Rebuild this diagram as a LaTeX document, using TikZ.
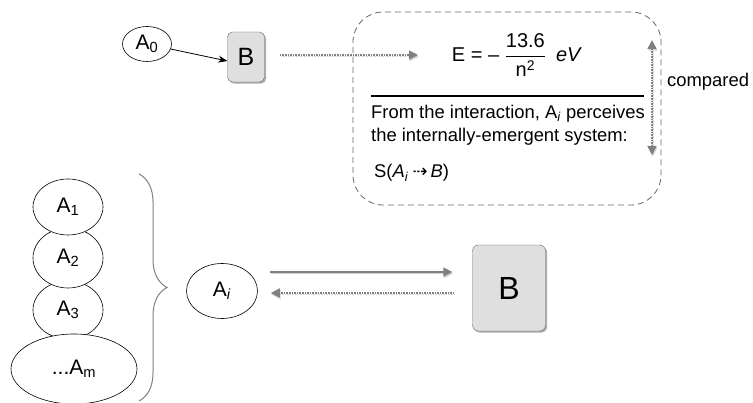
\documentclass[tikz,border=0pt]{standalone}
\usepackage{fontspec}
\setmainfont{Liberation Sans}
\newfontfamily\symfont{DejaVu Sans}
\usepackage{amsmath}
\usetikzlibrary{arrows.meta,shapes.geometric,shadows,decorations.pathreplacing,calc}

\tikzset{
  agent/.style={ellipse, draw, line width=0.6pt, fill=white, inner sep=0pt, font=\fontsize{21}{21}\selectfont},
  bbox/.style={rectangle, rounded corners=6pt, draw=gray!80!black, fill=gray!25,
    drop shadow={shadow xshift=1.6pt, shadow yshift=-1.6pt, fill=gray!65, opacity=1}},
  gtip/.style={-{Triangle[length=9pt,width=9pt]}},
  garrow/.style={draw=gray, line width=1.6pt, gtip,
    preaction={draw=gray!35, line width=1.6pt, transform canvas={xshift=0.8pt,yshift=-1.6pt}}},
  gdots/.style={draw=gray, line width=1.6pt, densely dotted, gtip,
    preaction={draw=gray!35, line width=1.6pt, densely dotted, transform canvas={xshift=0.8pt,yshift=-1.6pt}}},
  body/.style={font=\fontsize{18.4}{22.5}\selectfont, align=left, inner sep=0pt}
}

\begin{document}
\begin{tikzpicture}[x=1pt,y=-1pt]
\useasboundingbox (0,0) rectangle (753,403);

% top row
\node[agent, minimum width=49pt, minimum height=35pt] (a0) at (147,44) {A\textsubscript{0}};
\node[bbox, rounded corners=5pt, minimum width=37pt, minimum height=50pt,
  font=\fontsize{25}{25}\selectfont] (b0) at (246,57) {B};
\draw[-{Stealth[length=9pt,width=7pt]}, line width=0.8pt] (a0) -- ([yshift=-4pt]b0.west);

\node[draw=gray!80!black, line width=0.8pt, dash pattern=on 6pt off 4pt, rounded corners=30pt,
  minimum width=308pt, minimum height=193pt] (panel) at (507,108.5) {};
\node[font=\fontsize{20}{20}\selectfont, inner sep=0pt] (eq) at (517,55)
  {E = -- \(\dfrac{\text{13.6}}{\text{n}^{\text{2}}}\)\enspace\textit{eV}};
\draw[gdots] ([xshift=15pt]b0.east |- eq) -- (418,55);

\coordinate (ruleL) at (371,96);
\coordinate (ruleR) at (644,96);
\draw[line width=1.3pt] (ruleL) -- (ruleR);
\node[body, anchor=north west] (says) at (371,105)
  {From the interaction, A\textsubscript{\textit{i}} perceives\\the internally-emergent system:};
\node[body, anchor=west] (sys) at (374,173)
  {S(\textit{A}\textsubscript{\textit{i}}\kern4pt{\symfont\fontsize{18}{18}\selectfont ⇢}\kern3pt\textit{B})};

\coordinate (ctop) at (652,40);
\coordinate (cbot) at (652,155);
\draw[gdots, {Triangle[length=9pt,width=9pt]}-{Triangle[length=9pt,width=9pt]}] (ctop) -- (cbot);
\node[body, anchor=west] (cmp) at (667,82) {compared};

% the stack of agents
\node[agent, minimum width=70pt, minimum height=58pt] (a3) at (68,310) {A\textsubscript{3}};
\node[agent, minimum width=126pt, minimum height=70pt] (am) at (74,369) {...A\textsubscript{m}};
\node[agent, minimum width=70pt, minimum height=60pt] (a2) at (68,258) {A\textsubscript{2}};
\node[agent, minimum width=70pt, minimum height=56pt] (a1) at (68,207) {A\textsubscript{1}};
\draw[gray, line width=1pt, decorate, decoration={brace, amplitude=28pt}] (139,174) -- (139,401);

% interaction
\node[agent, minimum width=71pt, minimum height=55pt] (ai) at (222,291) {A\textsubscript{\textit{i}}};
\node[bbox, minimum width=73pt, minimum height=86pt,
  font=\fontsize{32}{32}\selectfont] (b1) at (509,288) {B};
\draw[garrow] ($(ai.east)+(12,-19)$) -- ($(b1.west)+(-20,-16)$);
\draw[gdots] ($(b1.west)+(-18,5)$) -- ($(ai.east)+(13,2)$);
\end{tikzpicture}
\end{document}
